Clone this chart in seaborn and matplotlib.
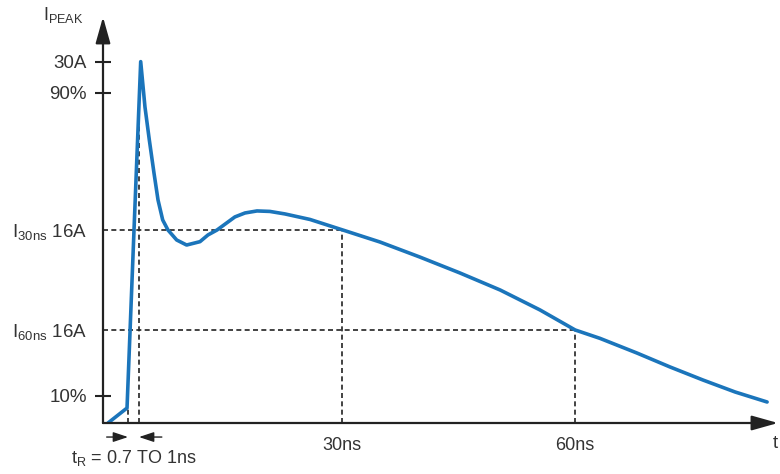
import matplotlib
matplotlib.use('Agg')
import matplotlib.pyplot as plt
import seaborn as sns
import pandas as pd

# current waveform (time in ns, current in schematic amps)
t_ns = [-0.13, 2.32, 3.22, 4.08, 4.63, 5.19, 5.79, 6.31, 6.91, 7.59, 8.71, 9.99,
        11.71, 12.74, 13.9, 16.2, 17.5, 19.05, 20.7, 22.65, 25.87, 30.0, 34.88,
        40.0, 45.17, 50.35, 55.47, 60.0, 63.2, 67.95, 72.2, 76.45, 80.6, 84.7]
i_amp = [0, 1.25, 16.1, 30.11, 26.33, 23.58, 20.83, 18.58, 16.92, 16.08, 15.25, 14.83,
         15.11, 15.67, 16.08, 17.17, 17.5, 17.67, 17.63, 17.42, 16.96, 16.1, 15.08,
         13.83, 12.5, 11.08, 9.42, 7.75, 7.05, 5.83, 4.67, 3.58, 2.58, 1.75]

y_ticks = [30.1, 27.5, 16.1, 7.75, 2.25]
y_labels = ['30A', '90%', r'I$_{\mathregular{30ns}}$ 16A', r'I$_{\mathregular{60ns}}$ 16A', '10%']
x_ticks = [30, 60]
x_labels = ['30ns', '60ns']

t_peak = 3.86
i_peak_line = 28.0
t_knee = 2.45
i_knee = 1.25

sns.set_style('white')
plt.rcParams['font.family'] = ['Liberation Sans', 'DejaVu Sans']
txt = '#333333'
blue = '#1b75bb'

df = pd.DataFrame({'t': t_ns, 'i': i_amp})

fig = plt.figure(figsize=(7.8, 4.74), dpi=100)
ax = fig.add_axes([103 / 780, 51 / 474, 677 / 780, 406 / 474])
xmin, xmax = -0.772, 86.36
ax.set_xlim(xmin, xmax)
ax.set_ylim(0, 33.83)

# dashed guide lines
dash = dict(color='#222222', lw=1.2, ls=(0, (3, 2)))
ax.plot([xmin, 30], [y_ticks[2], y_ticks[2]], **dash)
ax.plot([30, 30], [0, y_ticks[2]], **dash)
ax.plot([xmin, 60], [y_ticks[3], y_ticks[3]], **dash)
ax.plot([60, 60], [0, y_ticks[3]], **dash)
ax.plot([t_peak, t_peak], [0, i_peak_line], **dash)
ax.plot([t_knee, t_knee], [0, i_knee], **dash)

sns.lineplot(data=df, x='t', y='i', color=blue, lw=2.6, ax=ax,
             solid_joinstyle='round', solid_capstyle='round')

for s in ax.spines.values():
    s.set_visible(False)

ax.set_yticks(y_ticks)
ax.set_yticklabels(y_labels)
ax.set_xticks(x_ticks)
ax.set_xticklabels(x_labels)
ax.set_xlabel('')
ax.set_ylabel('')
ax.tick_params(axis='y', direction='inout', length=12, width=1.5, color='#222222',
               pad=5.5, labelsize=13.5, labelcolor=txt, left=True)
ax.tick_params(axis='x', length=0, pad=10, labelsize=13, labelcolor=txt)
for k in (2, 3):
    ax.yaxis.get_major_ticks()[k].tick1line.set_visible(False)

# axis arrows
head = '-|>,head_length=1.6,head_width=0.45'
ax.annotate('', xy=(0, 1), xytext=(0, 0), xycoords='axes fraction',
            arrowprops=dict(arrowstyle=head, lw=1.6, color='#222222',
                            mutation_scale=10, shrinkA=0, shrinkB=0),
            annotation_clip=False)
ax.annotate('', xy=(0.997, 0), xytext=(0, 0), xycoords='axes fraction',
            arrowprops=dict(arrowstyle=head, lw=1.6, color='#222222',
                            mutation_scale=10, shrinkA=0, shrinkB=0),
            annotation_clip=False)

# rise time markers
ya = -1.17
small = '-|>,head_length=0.9,head_width=0.3'
ax.annotate('', xy=(t_knee, ya), xytext=(-0.3, ya), xycoords='data',
            arrowprops=dict(arrowstyle=small, lw=1, color='#222222',
                            mutation_scale=10, shrinkA=0, shrinkB=0),
            annotation_clip=False)
ax.annotate('', xy=(t_peak, ya), xytext=(6.8, ya), xycoords='data',
            arrowprops=dict(arrowstyle=small, lw=1, color='#222222',
                            mutation_scale=10, shrinkA=0, shrinkB=0),
            annotation_clip=False)

fig.text(134 / 780, 1 - 458 / 474, r'$\mathregular{t_R}$ = 0.7 TO 1ns', ha='center', va='center',
         fontsize=13, color=txt)
fig.text(43 / 780, 1 - 15 / 474, r'I$_{\mathregular{PEAK}}$', ha='left', va='center',
         fontsize=13, color=txt)
fig.text(773 / 780, 1 - 444 / 474, 't', ha='left', va='center', fontsize=13.5, color=txt)

fig.savefig('out.png', dpi=100)
